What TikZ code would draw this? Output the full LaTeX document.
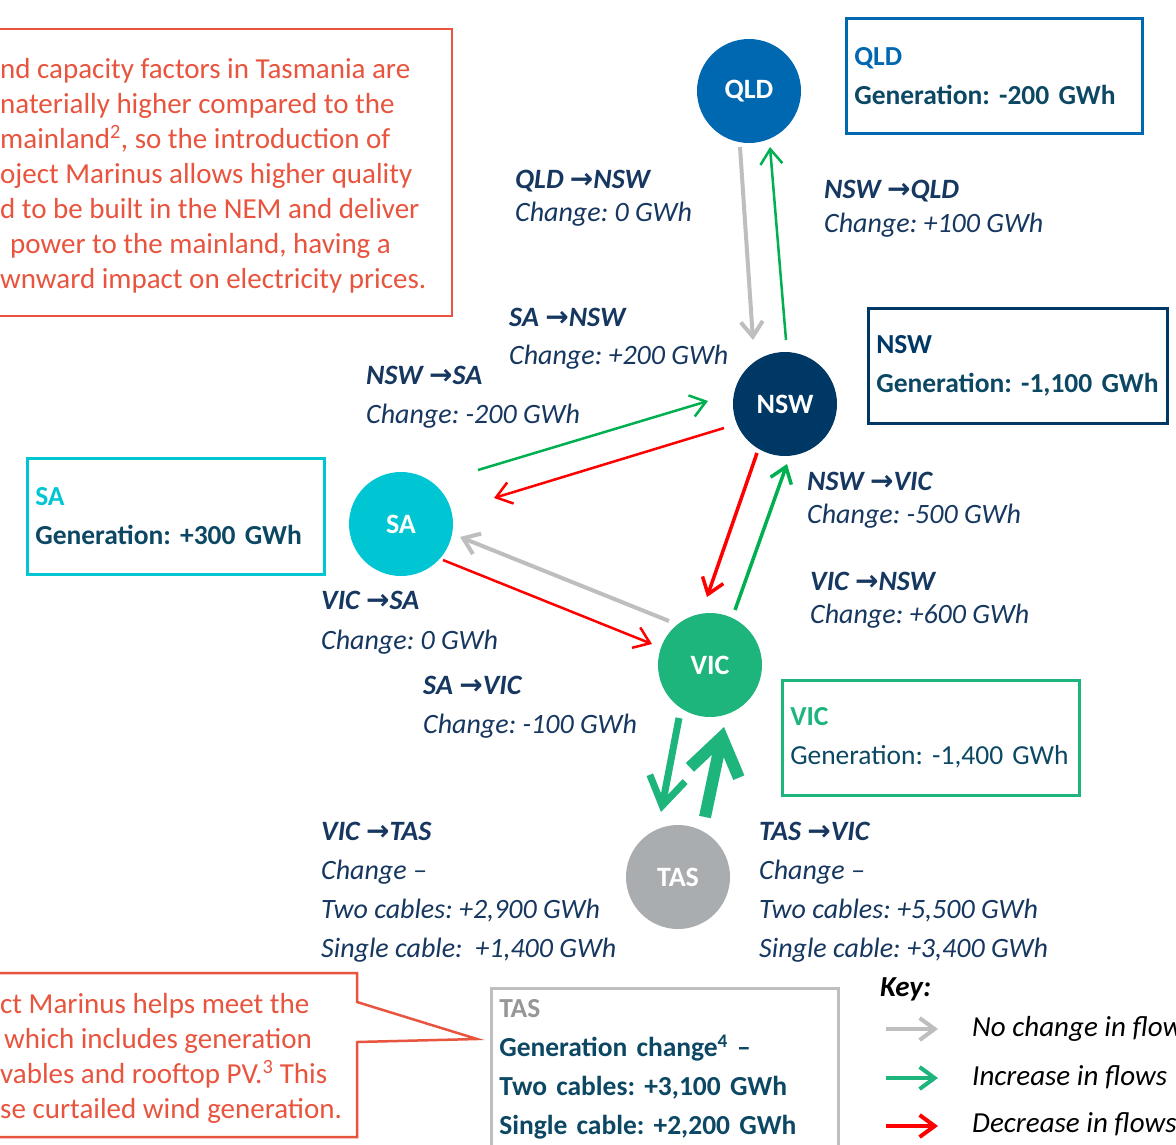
\documentclass[tikz,border=0pt]{standalone}
\usepackage{fontspec}
\setmainfont{Carlito}
\newfontfamily\arrowfont{DejaVu Sans}
\usetikzlibrary{positioning,arrows.meta}
\definecolor{qldblue}{RGB}{0,103,177}
\definecolor{nswnavy}{RGB}{0,56,101}
\definecolor{sacyan}{RGB}{0,198,212}
\definecolor{vicgreen}{RGB}{30,181,125}
\definecolor{tasgray}{RGB}{170,173,175}
\definecolor{tashead}{RGB}{150,150,150}
\definecolor{gentext}{RGB}{12,72,100}
\definecolor{labnavy}{RGB}{22,55,96}
\definecolor{notered}{RGB}{232,84,62}
\definecolor{flowgreen}{RGB}{0,176,80}
\definecolor{flowred}{RGB}{255,0,0}
\definecolor{flowgray}{RGB}{190,190,190}
\newcommand{\flowarrow}{{\arrowfont\bfseries\upshape →}}

\begin{document}
\frenchspacing
\begin{tikzpicture}[x=1pt,y=-1pt,
    region/.style={circle,minimum size=104pt,inner sep=0pt,text=white,
      font=\fontsize{28}{32}\selectfont\bfseries},
    genbox/.style={draw,line width=2.5pt,anchor=north west,align=left,
      inner xsep=8pt,inner ysep=0pt,text=gentext,
      font=\fontsize{27.5}{39}\selectfont\bfseries},
    flowlab/.style={anchor=base west,align=left,inner sep=0pt,text=labnavy,
      font=\fontsize{28}{33}\selectfont\itshape},
    note/.style={anchor=base west,align=left,inner sep=0pt,text=notered,
      font=\fontsize{29}{35}\selectfont},
    keylab/.style={anchor=base west,inner sep=0pt,
      font=\fontsize{29}{34}\selectfont\itshape},
    thin/.style={line width=#1,-{Straight Barb[length=15pt,width=22pt]}},
    thick/.style={line width=#1,-{Straight Barb[length=28pt,width=36pt]}},
    thicker/.style={line width=#1,-{Straight Barb[length=36pt,width=50pt]}}]
  \useasboundingbox (0,0) rectangle (1176,1144);
  \fill[white] (0,0) rectangle (1176,1144);
  \clip (0,0) rectangle (1176,1144);

  % notes (anchored at the baseline of their last line)
  \draw[notered,line width=2.5pt] (-5,29) -- (452,29) -- (452,316) -- (-5,316);
  \node[note] (topnote) at (0,288)
    {nd capacity factors in Tasmania are\\
     naterially higher compared to the\\
     mainland\textsuperscript{2}, so the introduction of\\
     oject Marinus allows higher quality\\
     d to be built in the NEM and deliver\\
     \hspace*{10pt}power to the mainland, having a\\
     wnward impact on electricity prices.};
  \draw[notered,line width=2.5pt] (-5,973) -- (357,973) -- (357,1002)
    -- (477,1039) -- (357,1042) -- (357,1137) -- (-5,1137);
  \node[note] (botnote) at (0,1118)
    {ct Marinus helps meet the\\
     \hspace*{4pt}which includes generation\\
     vables and rooftop PV.\textsuperscript{3} This\\
     se curtailed wind generation.};

  % regions
  \node[region,fill=qldblue] (QLD) at (749,91) {QLD};
  \node[region,fill=nswnavy] (NSW) at (785,404) {NSW};
  \node[region,fill=sacyan] (SA) at (401,524) {SA};
  \node[region,fill=vicgreen] (VIC) at (710,665) {VIC};
  \node[region,fill=tasgray] (TAS) at (678,877) {TAS};

  % generation boxes
  \node[genbox,draw=qldblue,minimum width=296pt,minimum height=115pt,
    text width=280pt] (qldbox) at (845,17)
    {\textcolor{qldblue}{QLD}\\Generation: -200 GWh};
  \node[genbox,draw=nswnavy,minimum width=299pt,minimum height=115pt,
    text width=283pt] (nswbox) at (867,307)
    {\textcolor{nswnavy}{NSW}\\Generation: -1,100 GWh};
  \node[genbox,draw=sacyan,minimum width=297pt,minimum height=116pt,
    text width=281pt] (sabox) at (26,457)
    {\textcolor{sacyan}{SA}\\Generation: +300 GWh};
  \node[genbox,draw=vicgreen,minimum width=297pt,minimum height=115pt,
    text width=281pt] (vicbox) at (781,679)
    {\textcolor{vicgreen}{VIC}\\\mdseries Generation: -1,400 GWh};
  \node[genbox,draw=flowgray,minimum width=347pt,minimum height=162pt,
    text width=331pt] (tasbox) at (490,987)
    {\textcolor{tashead}{TAS}\\Generation change\textsuperscript{4} --\\
     Two cables: +3,100 GWh\\Single cable: +2,200 GWh};

  % flows
  \draw[thin=4pt,flowgray] ([shift={(-9,56)}]QLD.center) -- ([shift={(-32,-64)}]NSW.center);
  \draw[thin=2.5pt,flowgreen] ([shift={(1,-64)}]NSW.center) -- ([shift={(21,56)}]QLD.center);
  \draw[thin=2.5pt,flowgreen] ([shift={(77,-54)}]SA.center) -- ([shift={(-77,-3)}]NSW.center);
  \draw[thin=2.5pt,flowred] ([shift={(-61,24)}]NSW.center) -- ([shift={(93,-26)}]SA.center);
  \draw[thin=3.5pt,flowred] ([shift={(-28,49)}]NSW.center) -- ([shift={(-3,-68)}]VIC.center);
  \draw[thin=3.5pt,flowgreen] ([shift={(25,-55)}]VIC.center) -- ([shift={(2,60)}]NSW.center);
  \draw[thin=4pt,flowgray] ([shift={(-41,-44)}]VIC.center) -- ([shift={(59,13)}]SA.center);
  \draw[thin=2.5pt,flowred] ([shift={(42,36)}]SA.center) -- ([shift={(-58,-21)}]VIC.center);
  \draw[thick=7pt,vicgreen] ([shift={(-31,53)}]VIC.center) -- ([shift={(-17,-65)}]TAS.center);
  \draw[thicker=12pt,vicgreen] ([shift={(27,-60)}]TAS.center) -- ([shift={(14,62)}]VIC.center);

  % flow labels (anchored at the baseline of their last line)
  \node[flowlab] (lqn) at (515,221) {\textbf{QLD \flowarrow NSW}\\Change: 0 GWh};
  \node[flowlab] (lnq) at (824,232) {\textbf{NSW \flowarrow QLD}\\[1pt]Change: +100 GWh};
  \node[flowlab] (lsn) at (509,364) {\textbf{SA \flowarrow NSW}\\[5pt]Change: +200 GWh};
  \node[flowlab] (lns) at (366,423) {\textbf{NSW \flowarrow SA}\\[6pt]Change: -200 GWh};
  \node[flowlab] (lnv) at (807,523) {\textbf{NSW \flowarrow VIC}\\Change: -500 GWh};
  \node[flowlab] (lvn) at (810,623) {\textbf{VIC \flowarrow NSW}\\Change: +600 GWh};
  \node[flowlab] (lvs) at (321,649) {\textbf{VIC \flowarrow SA}\\[7pt]Change: 0 GWh};
  \node[flowlab] (lsv) at (423,733) {\textbf{SA \flowarrow VIC}\\[6pt]Change: -100 GWh};
  \node[flowlab] (lvt) at (321,957) {\textbf{VIC \flowarrow TAS}\\[6pt]Change --\\[6pt]
    Two cables: +2,900 GWh\\[6pt]Single cable:\ \ +1,400 GWh};
  \node[flowlab] (ltv) at (759,957) {\textbf{TAS \flowarrow VIC}\\[6pt]Change --\\[6pt]
    Two cables: +5,500 GWh\\[6pt]Single cable: +3,400 GWh};

  % key
  \node[keylab,font=\fontsize{29}{34}\selectfont\bfseries\itshape] (keyhead) at (880,996) {Key:};
  \node[keylab] (knone) at (972,1036) {No change in flows};
  \node[keylab] (kup) at (972,1085) {Increase in flows};
  \node[keylab] (kdown) at (972,1132) {Decrease in flows};
  \coordinate (kg1) at (886,1029); \coordinate (kg2) at (938,1029);
  \coordinate (ku1) at (886,1078); \coordinate (ku2) at (938,1078);
  \coordinate (kd1) at (886,1126); \coordinate (kd2) at (938,1126);
  \draw[thin=4pt,flowgray] (kg1) -- (kg2);
  \draw[thin=4pt,vicgreen] (ku1) -- (ku2);
  \draw[thin=4pt,flowred] (kd1) -- (kd2);
\end{tikzpicture}
\end{document}
